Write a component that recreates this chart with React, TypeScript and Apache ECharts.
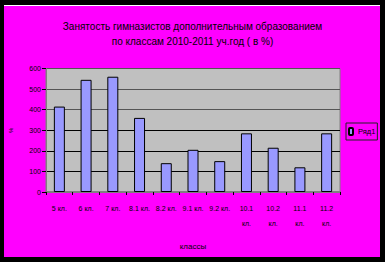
import React, { useEffect, useRef } from "react";
import * as echarts from "echarts";

const titleLines = [
  "Занятость гимназистов дополнительным образованием",
  "по классам 2010-2011 уч.год ( в %)",
];
const categories = [
  "5 кл.",
  "6 кл.",
  "7 кл.",
  "8.1 кл.",
  "8.2 кл.",
  "9.1 кл.",
  "9.2 кл.",
  "10.1 кл.",
  "10.2 кл.",
  "11.1 кл.",
  "11.2 кл.",
];
const seriesName = "Ряд1";
const values = [415, 545, 560, 360, 140, 205, 150, 285, 215, 120, 285];
const yTicks = { min: 0, max: 600, interval: 100 };
const xAxisName = "классы";
const yAxisName = "%";

const FONT = "'Liberation Sans', Arial, sans-serif";
const shadowText = {
  color: "#000",
  textShadowColor: "#fff",
  textShadowOffsetX: 1,
  textShadowOffsetY: 1,
  textShadowBlur: 0,
  fontFamily: FONT,
};

export default function App() {
  const ref = useRef<HTMLDivElement>(null);
  useEffect(() => {
    if (!ref.current) return;
    const chart = echarts.init(ref.current, undefined, { renderer: "svg" });
    chart.setOption({
      animation: false,
      backgroundColor: "transparent",
      title: {
        text: titleLines.join("\n"),
        left: "center",
        top: 14,
        textStyle: { ...shadowText, fontSize: 10, fontWeight: "normal", lineHeight: 15 },
      },
      legend: {
        data: [seriesName],
        left: 346,
        top: 123,
        orient: "vertical",
        itemWidth: 4,
        itemHeight: 7,
        itemGap: 2,
        padding: [4, 2, 4, 2],
        borderColor: "#222",
        borderWidth: 1,
        textStyle: { ...shadowText, fontSize: 7.5 },
      },
      grid: {
        left: 44,
        right: 45,
        top: 68.5,
        bottom: 70,
        show: true,
        backgroundColor: "#C0C0C0",
        borderColor: "#808080",
        borderWidth: 1,
      },
      xAxis: {
        type: "category",
        data: categories,
        name: xAxisName,
        nameLocation: "middle",
        nameGap: 50,
        nameTextStyle: { ...shadowText, fontSize: 8 },
        axisLine: { show: true, lineStyle: { color: "#808080", width: 2 } },
        axisTick: { show: true, length: 3, lineStyle: { color: "#000" } },
        axisLabel: {
          interval: 0,
          margin: 9,
          ...shadowText,
          fontSize: 7,
          lineHeight: 15,
          formatter: (v: string) => (v.length > 7 ? v.replace(" ", "\n") : v),
        },
      },
      yAxis: {
        type: "value",
        min: yTicks.min,
        max: yTicks.max,
        interval: yTicks.interval,
        name: yAxisName,
        nameLocation: "middle",
        nameRotate: 90,
        nameGap: 32,
        nameTextStyle: { ...shadowText, fontSize: 6 },
        axisLine: { show: true, lineStyle: { color: "#808080", width: 1 } },
        axisTick: { show: true, length: 4, lineStyle: { color: "#000" } },
        axisLabel: { ...shadowText, fontSize: 7, margin: 5 },
        splitLine: {
          show: true,
          lineStyle: {
            color: ["#808080", "#000", "#000", "#000", "#555", "#555", "#555"],
            width: 1,
          },
        },
      },
      series: [
        {
          name: seriesName,
          type: "bar",
          data: values,
          barWidth: 11,
          itemStyle: { color: "#9999FF", borderColor: "#000", borderWidth: 1 },
        },
      ],
    });
    return () => chart.dispose();
  }, []);

  return (
    <div
      style={{
        position: "fixed",
        left: 0,
        top: 0,
        width: 385,
        height: 262,
        background: "#000",
        overflow: "hidden",
      }}
    >
      <div
        style={{
          position: "absolute",
          left: 4,
          top: 5,
          width: 376,
          height: 251,
          background: "#FF00FF",
          borderTop: "1px solid #fff",
        }}
      />
      <div
        ref={ref}
        style={{ position: "absolute", left: 0, top: 0, width: 385, height: 262 }}
      />
    </div>
  );
}
